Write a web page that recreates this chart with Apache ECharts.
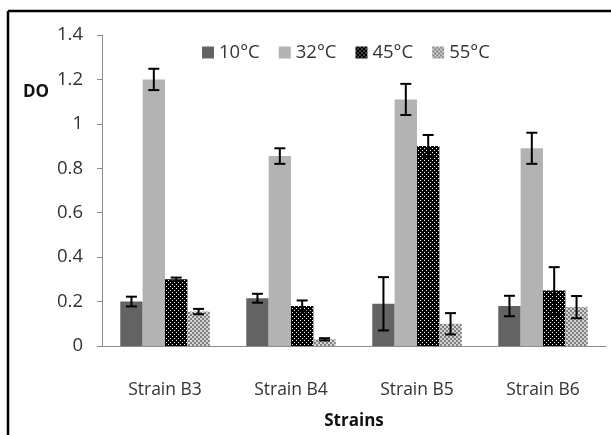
<!DOCTYPE html>
<html>
<head>
<meta charset="utf-8">
<script src="https://cdn.jsdelivr.net/npm/echarts@6/dist/echarts.min.js"></script>
<style>
  html, body { margin: 0; padding: 0; background: #fff; }
  #chart { width: 611px; height: 435px; }
</style>
</head>
<body>
<div id="chart"></div>
<script>
// data
const categories = ['Strain B3', 'Strain B4', 'Strain B5', 'Strain B6'];
const seriesNames = ['10°C', '32°C', '45°C', '55°C'];
const v10 = [0.20, 0.215, 0.19, 0.18];
const v32 = [1.20, 0.855, 1.11, 0.89];
const v45 = [0.30, 0.18, 0.90, 0.25];
const v55 = [0.155, 0.03, 0.10, 0.175];
const e10 = [0.022, 0.02, 0.12, 0.046];
const e32 = [0.048, 0.035, 0.07, 0.07];
const e45 = [0.008, 0.025, 0.05, 0.105];
const e55 = [0.012, 0.005, 0.048, 0.05];
const yTicks = { min: 0, max: 1.4, interval: 0.2 };

// fill patterns
function makePattern(size, draw) {
  const c = document.createElement('canvas');
  c.width = size; c.height = size;
  draw(c.getContext('2d'));
  return { image: c, repeat: 'repeat' };
}
const dotted = makePattern(4, function (g) {
  g.fillStyle = '#000'; g.fillRect(0, 0, 4, 4);
  g.fillStyle = '#fff'; g.fillRect(0, 0, 1, 1); g.fillRect(2, 2, 1, 1);
});
const checker = makePattern(4, function (g) {
  g.fillStyle = '#d4d4d4'; g.fillRect(0, 0, 4, 4);
  g.fillStyle = '#808080'; g.fillRect(0, 0, 2, 2); g.fillRect(2, 2, 2, 2);
});
const fills = ['#636363', '#b3b3b3', dotted, checker];
const values = [v10, v32, v45, v55];
const errors = [e10, e32, e45, e55];
const catGap = 0.29;

let errData = [];
values.forEach(function (vals, s) {
  vals.forEach(function (v, i) { errData.push([i, v, errors[s][i], s]); });
});

const font = '"Open Sans", sans-serif';
let myChart = echarts.init(document.getElementById('chart'));
let series = seriesNames.map(function (name, s) {
  return {
    name: name,
    type: 'bar',
    data: values[s],
    barGap: 0,
    barCategoryGap: (catGap * 100) + '%',
    itemStyle: { color: fills[s] },
    animation: false
  };
});
series.push({
  name: 'err',
  type: 'custom',
  z: 5,
  animation: false,
  encode: { x: 0, y: 1 },
  data: errData,
  renderItem: function (params, api) {
    let i = api.value(0), v = api.value(1), e = api.value(2), s = api.value(3);
    let band = api.size([1, 0])[0];
    let bw = band * (1 - catGap) / 4;
    let c = api.coord([i, v]);
    let x = c[0] - 2 * bw + (s + 0.5) * bw;
    let top = api.coord([i, v + e])[1];
    let bot = api.coord([i, v - e])[1];
    let st = { stroke: '#000', lineWidth: 2 };
    return {
      type: 'group',
      children: [
        { type: 'line', shape: { x1: x, y1: top, x2: x, y2: bot }, style: st },
        { type: 'line', shape: { x1: x - 5.5, y1: top, x2: x + 5.5, y2: top }, style: st },
        { type: 'line', shape: { x1: x - 5.5, y1: bot, x2: x + 5.5, y2: bot }, style: st }
      ]
    };
  }
});

myChart.setOption({
  backgroundColor: '#fff',
  animation: false,
  legend: {
    data: seriesNames,
    top: 38,
    left: 197,
    itemWidth: 12,
    itemHeight: 12,
    itemGap: 19,
    icon: 'rect',
    textStyle: { fontFamily: font, fontSize: 18.5, color: '#333' }
  },
  grid: { left: 102, top: 35, width: 504, height: 313 },
  xAxis: {
    type: 'category',
    data: categories,
    name: 'Strains',
    nameLocation: 'middle',
    nameGap: 67,
    nameTextStyle: { fontFamily: font, fontSize: 17, fontWeight: 'bold', color: '#111' },
    axisLine: { lineStyle: { color: '#8c8c8c', width: 1 } },
    axisTick: { length: 7, lineStyle: { color: '#8c8c8c' } },
    axisLabel: { margin: 35, fontFamily: font, fontSize: 17.5, color: '#333' }
  },
  yAxis: {
    type: 'value',
    min: yTicks.min,
    max: yTicks.max,
    interval: yTicks.interval,
    axisLine: { show: true, lineStyle: { color: '#8c8c8c', width: 1 } },
    axisTick: { show: true, length: 5, lineStyle: { color: '#8c8c8c' } },
    splitLine: { show: false },
    axisLabel: { margin: 19, fontFamily: font, fontSize: 18.5, color: '#333' }
  },
  graphic: [
    { type: 'line', shape: { x1: 8, y1: 11, x2: 8, y2: 435 }, style: { stroke: '#000', lineWidth: 2.5 } },
    { type: 'line', shape: { x1: 8, y1: 11, x2: 611, y2: 11 }, style: { stroke: '#000', lineWidth: 2.5 } },
    { type: 'text', left: 23, top: 84, style: { text: 'DO', fontFamily: font, fontSize: 17, fontWeight: 'bold', fill: '#111' } }
  ],
  series: series
});
</script>
</body>
</html>
